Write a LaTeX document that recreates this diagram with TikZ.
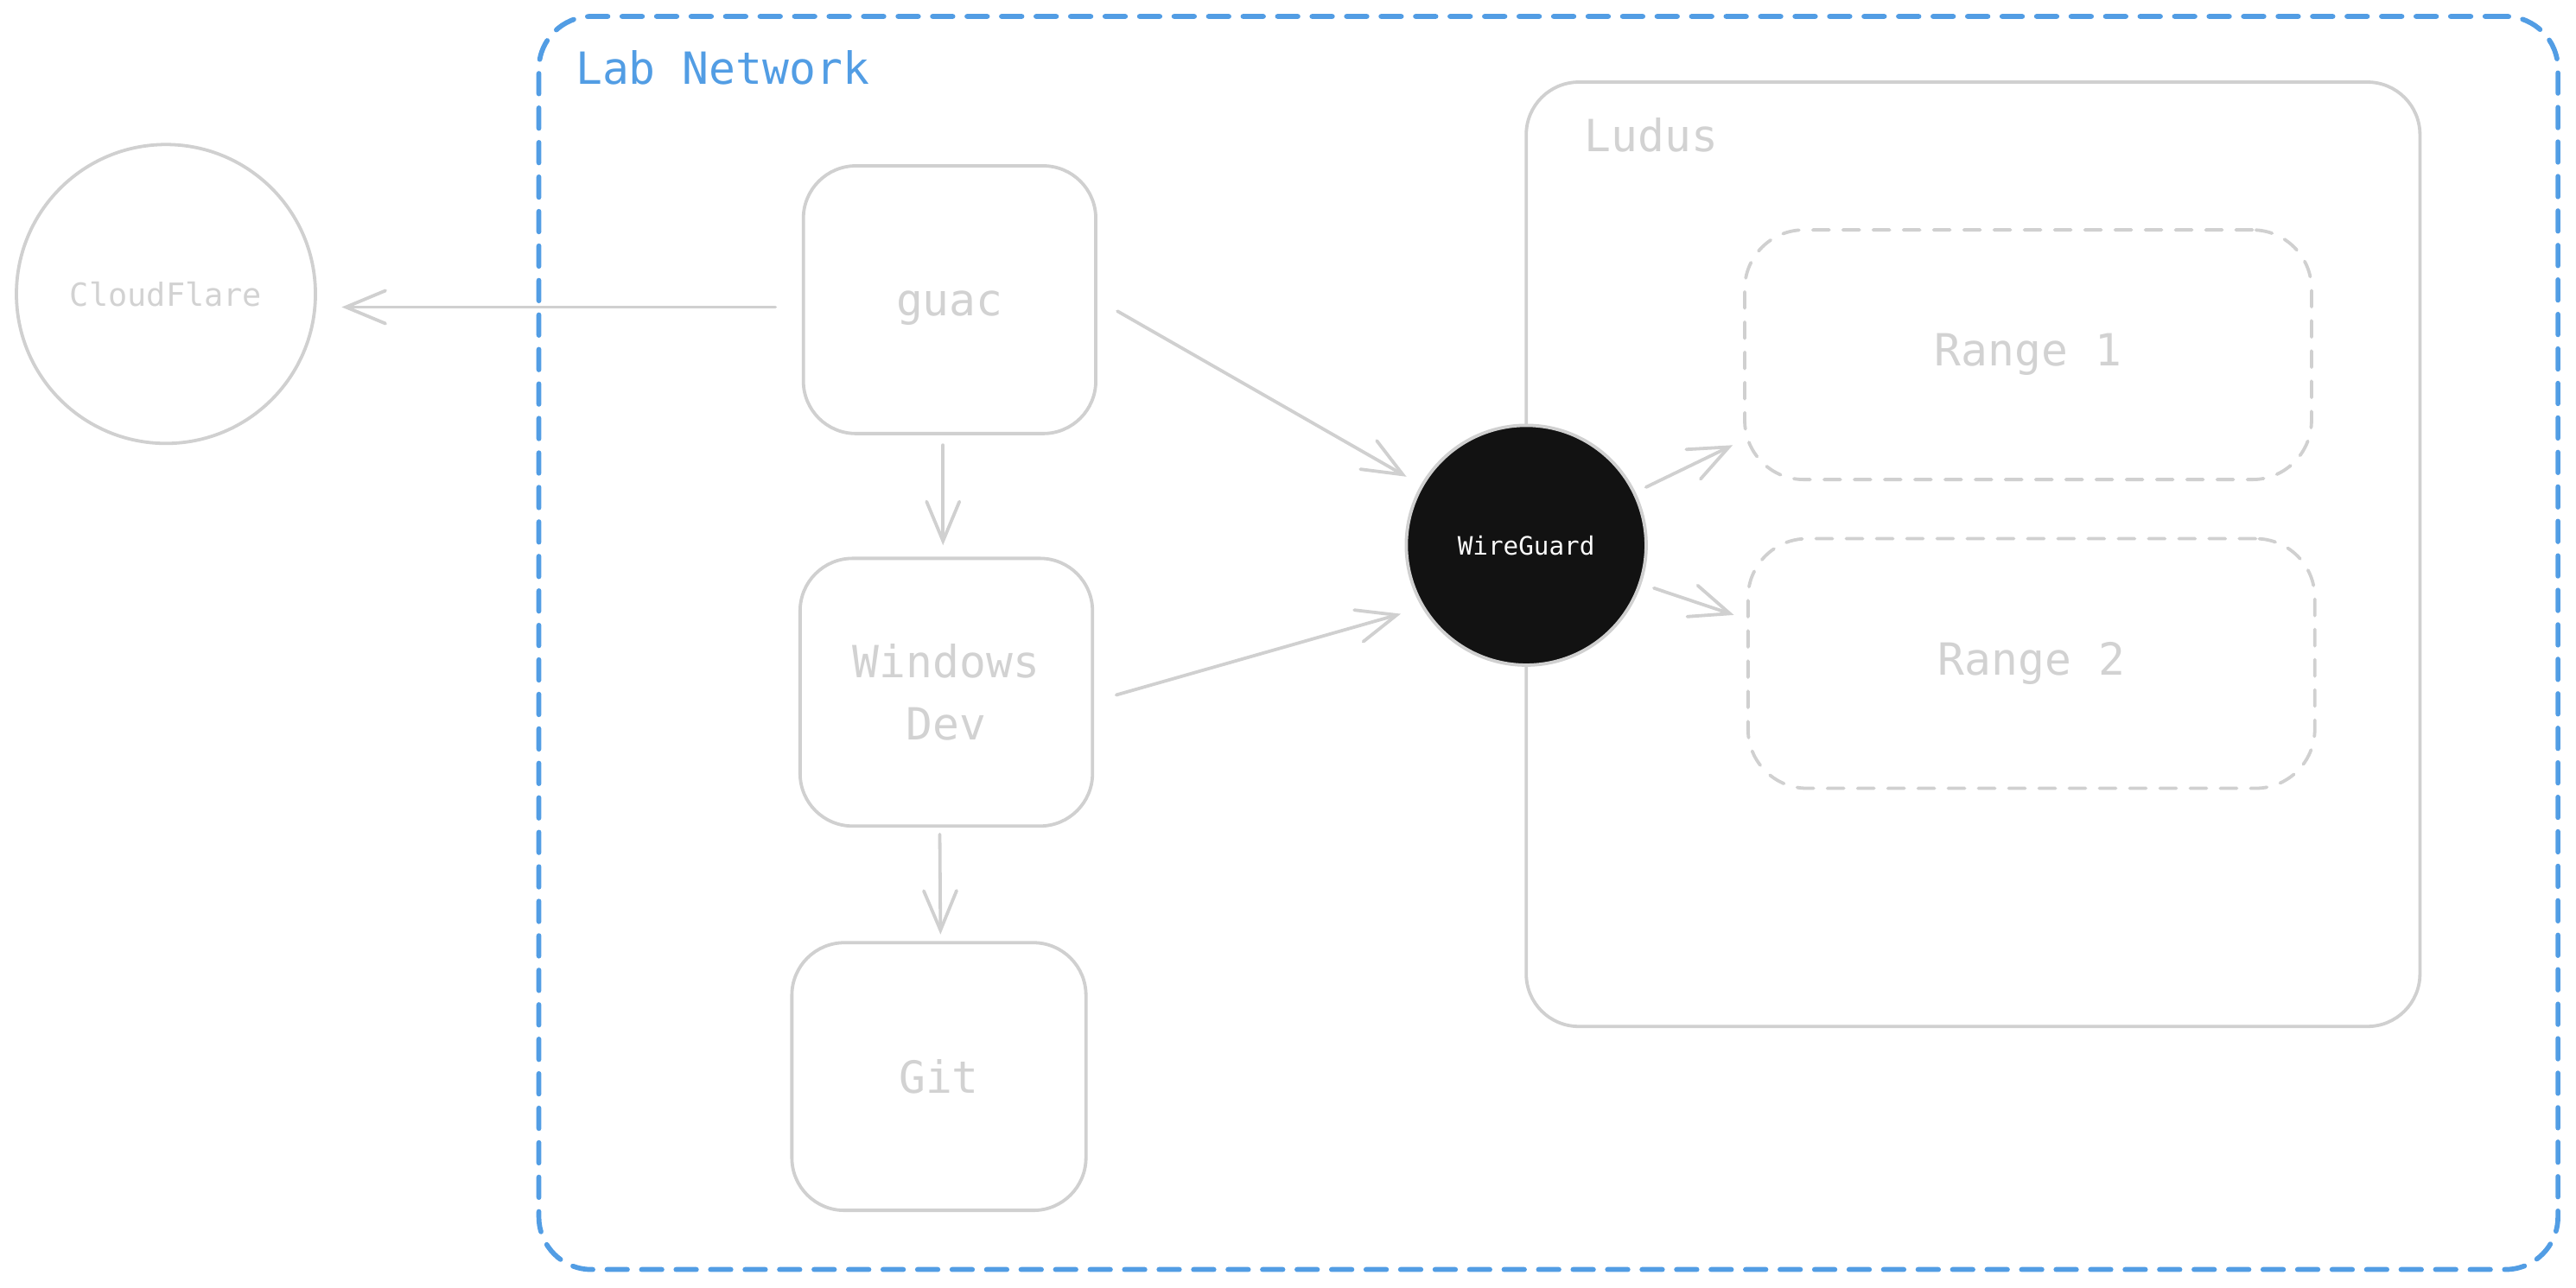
\documentclass[tikz,border=0pt]{standalone}
\usepackage{fontspec}
\setmainfont{DejaVu Sans Mono}
\usetikzlibrary{arrows.meta}
\definecolor{lgray}{RGB}{208,208,208}
\definecolor{tgray}{RGB}{210,210,210}
\definecolor{netblue}{RGB}{82,157,228}
\definecolor{wgfill}{RGB}{18,18,18}
\tikzset{
  box/.style={draw=lgray, line width=1pt, rounded corners=16pt, text=tgray,
    font=\fontsize{13.5}{19}\selectfont, align=center, inner sep=0pt},
  rangebox/.style={box, rounded corners=18pt, dash pattern=on 5pt off 4.2pt, line cap=round},
  circ/.style={circle, draw=lgray, line width=1pt, inner sep=0pt},
  arr/.style={draw=lgray, line width=1pt, line cap=round,
    -{Straight Barb[length=12pt,width=10pt,line cap=round]}},
  label/.style={anchor=west, inner sep=0pt, font=\fontsize{13.5}{16}\selectfont}
}
\begin{document}
\begin{tikzpicture}[x=0.5pt,y=-0.5pt]
\useasboundingbox (0,0) rectangle (1568,784.26);
% Lab Network container
\node[draw=netblue, line width=1.5pt, dash pattern=on 6.2pt off 4.3pt, line cap=round,
  rounded corners=16pt, minimum width=614.5pt, minimum height=381.5pt, inner sep=0pt]
  (lab) at (942.5,391.5) {};
\node[label, text=netblue] (labt) at (350,41) {Lab Network};
% Ludus container
\node[box, minimum width=272pt, minimum height=287.5pt] (ludus) at (1201,337.5) {};
\node[label, text=tgray] (ludt) at (964,82) {Ludus};
% Ranges
\node[rangebox, minimum width=172.5pt, minimum height=76pt] (r1) at (1234.5,216) {Range 1};
\node[rangebox, minimum width=172.5pt, minimum height=76pt] (r2) at (1236.5,404) {Range 2};
% Left column
\node[box, minimum width=89pt, minimum height=81.5pt] (guac) at (578,182.5) {\raisebox{-2.5pt}[\height][\depth]{guac}};
\node[box, minimum width=89pt, minimum height=81.5pt] (win) at (576,421.5) {Windows\\Dev};
\node[box, minimum width=89.5pt, minimum height=81.5pt] (git) at (571.5,655.5) {Git};
% CloudFlare
\node[circ, minimum size=91pt, text=tgray, font=\fontsize{9.7}{12}\selectfont] (cf) at (101,179) {CloudFlare};
% WireGuard
\node[circ, fill=wgfill, minimum size=73pt, text=white!90!lgray, font=\fontsize{7.7}{10}\selectfont] (wg) at (929,332) {WireGuard};
% connectors
\draw[arr, shorten <=8pt, shorten >=7.5pt] ([yshift=-2.25pt]guac.west) -- ([yshift=-2.25pt]guac.west -| cf.east);
\draw[arr, shorten <=3pt, shorten >=3.5pt] ([xshift=-2pt]guac.south) -- ([xshift=-1pt]win.north);
\draw[arr, shorten <=2pt, shorten >=2pt] ([xshift=-2pt]win.south) -- ([xshift=0.5pt]git.north);
\draw[arr, shorten <=7pt, shorten >=5pt] (guac.east) -- (wg);
\draw[arr, shorten <=7pt, shorten >=39.7pt] ([yshift=-2.75pt]win.east) -- ([yshift=-10pt]wg.center);
\draw[arr, shorten <=3.5pt, shorten >=3.5pt] (wg) -- ([yshift=-26pt]r1.west);
\draw[arr, shorten <=4pt, shorten >=4pt] (wg) -- ([yshift=13.5pt]r2.west);
\end{tikzpicture}
\end{document}
